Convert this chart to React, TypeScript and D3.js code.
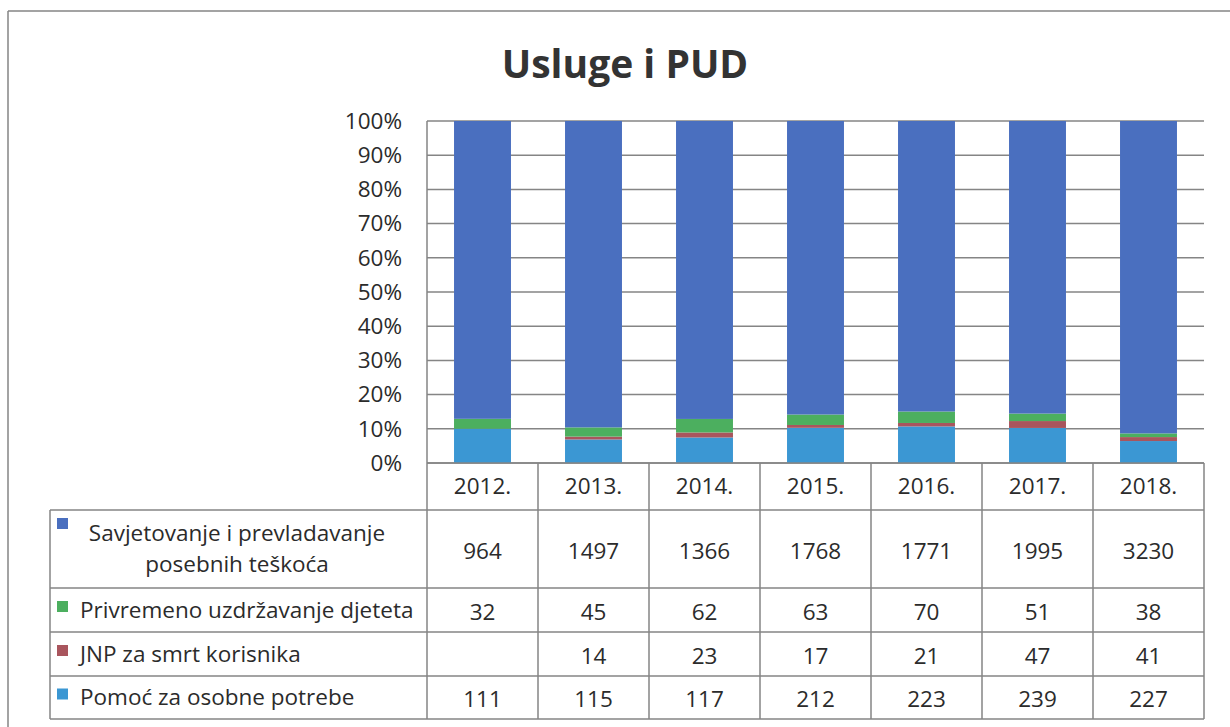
import * as d3 from 'd3';
import React from 'react';

const years = ['2012.', '2013.', '2014.', '2015.', '2016.', '2017.', '2018.'];
const savjetovanje = [964, 1497, 1366, 1768, 1771, 1995, 3230];
const privremeno = [32, 45, 62, 63, 70, 51, 38];
const jnp = [null, 14, 23, 17, 21, 47, 41];
const pomoc = [111, 115, 117, 212, 223, 239, 227];

// bottom to top in the stack
const seriesKeys = ['pomoc', 'jnp', 'privremeno', 'savjetovanje'];
const seriesColors: any = {
  savjetovanje: '#4a6fbf',
  privremeno: '#4caf5f',
  jnp: '#a9555d',
  pomoc: '#3b97d3',
};
// table order, top to bottom
const tableRows = [
  { key: 'savjetovanje', label: ['Savjetovanje i prevladavanje', 'posebnih teškoća'], values: savjetovanje },
  { key: 'privremeno', label: ['Privremeno uzdržavanje djeteta'], values: privremeno },
  { key: 'jnp', label: ['JNP za smrt korisnika'], values: jnp },
  { key: 'pomoc', label: ['Pomoć za osobne potrebe'], values: pomoc },
];

const W = 1230;
const H = 727;
const FONT = "'Open Sans', sans-serif";
const LINE = '#858585';
const TEXT = '#2b2b2b';
const FS = 22.5;

const plot = { left: 427, right: 1204, top: 121, bottom: 463 };
const rowEdges = [463, 510, 588, 632, 676, 719];
const tableLeft = 50;

export default function App() {
  const rows = years.map((y, i) => ({
    year: y,
    savjetovanje: savjetovanje[i],
    privremeno: privremeno[i],
    jnp: jnp[i] ?? 0,
    pomoc: pomoc[i],
  }));

  const stacked = d3.stack<any>().keys(seriesKeys).offset(d3.stackOffsetExpand)(rows);

  const cols = d3.scaleBand().domain(years).range([plot.left, plot.right]);
  const bars = d3
    .scaleBand()
    .domain(years)
    .range([plot.left, plot.right])
    .paddingInner(0.487)
    .paddingOuter(0.2435);
  const y = d3.scaleLinear().domain([0, 1]).range([plot.bottom, plot.top]);
  const ticks = y.ticks(10);
  const fmt = d3.format('.0%');

  return (
    <svg
      width={W}
      height={H}
      style={{ position: 'absolute', left: 0, top: 0, background: '#fff' }}
      fontFamily={FONT}
    >
      <rect x={0} y={0} width={W} height={H} fill="#fff" />
      {/* outer frame */}
      <line x1={8} y1={11} x2={W} y2={11} stroke={LINE} strokeWidth={1.5} />
      <line x1={8} y1={11} x2={8} y2={H} stroke={LINE} strokeWidth={1.5} />

      <text x={625} y={78} textAnchor="middle" fontSize={39} fontWeight="bold" fill="#333">
        Usluge i PUD
      </text>

      {/* gridlines */}
      {ticks.map((t) => (
        <line key={t} x1={plot.left} x2={plot.right} y1={y(t)} y2={y(t)} stroke={LINE} strokeWidth={1.5} />
      ))}
      <line x1={plot.left} x2={plot.left} y1={plot.top} y2={plot.bottom} stroke={LINE} strokeWidth={1.5} />

      {/* axis labels */}
      {ticks.map((t) => (
        <text
          key={'l' + t}
          x={402}
          y={y(t)}
          dy="0.35em"
          textAnchor="end"
          fontSize={FS}
          fill={TEXT}
        >
          {fmt(t)}
        </text>
      ))}

      {/* bars */}
      {stacked.map((s: any) => (
        <g key={s.key} fill={seriesColors[s.key]}>
          {s.map((d: any) => (
            <rect
              key={d.data.year}
              x={bars(d.data.year)}
              width={bars.bandwidth()}
              y={y(d[1])}
              height={Math.max(0, y(d[0]) - y(d[1]))}
            />
          ))}
        </g>
      ))}

      {/* data table */}
      <g stroke={LINE} strokeWidth={1.5} fill="none">
        <line x1={plot.left} x2={plot.right} y1={rowEdges[0]} y2={rowEdges[0]} />
        {rowEdges.slice(1).map((ry) => (
          <line key={ry} x1={tableLeft} x2={plot.right} y1={ry} y2={ry} />
        ))}
        <line x1={tableLeft} x2={tableLeft} y1={rowEdges[1]} y2={rowEdges[5]} />
        {years.map((yr) => (
          <line key={yr} x1={cols(yr)} x2={cols(yr)} y1={rowEdges[0]} y2={rowEdges[5]} />
        ))}
        <line x1={plot.right} x2={plot.right} y1={rowEdges[0]} y2={rowEdges[5]} />
      </g>

      {years.map((yr) => (
        <text
          key={'h' + yr}
          x={(cols(yr) as number) + cols.bandwidth() / 2}
          y={(rowEdges[0] + rowEdges[1]) / 2}
          dy="0.35em"
          textAnchor="middle"
          fontSize={FS}
          fill={TEXT}
        >
          {yr}
        </text>
      ))}

      {tableRows.map((r, i) => {
        const top = rowEdges[i + 1];
        const bottom = rowEdges[i + 2];
        const mid = (top + bottom) / 2;
        const twoLine = r.label.length > 1;
        return (
          <g key={r.key}>
            <rect
              x={57}
              y={twoLine ? top + 8 : mid - 9}
              width={11}
              height={11}
              fill={seriesColors[r.key]}
            />
            {twoLine ? (
              r.label.map((ln, j) => (
                <text
                  key={j}
                  x={237}
                  y={mid + (j - 0.5) * 31}
                  dy="0.35em"
                  textAnchor="middle"
                  fontSize={FS}
                  fill={TEXT}
                >
                  {ln}
                </text>
              ))
            ) : (
              <text x={80} y={mid} dy="0.35em" fontSize={FS} fill={TEXT}>
                {r.label[0]}
              </text>
            )}
            {r.values.map((v, j) => (
              <text
                key={j}
                x={(cols(years[j]) as number) + cols.bandwidth() / 2}
                y={mid + 2}
                dy="0.35em"
                textAnchor="middle"
                fontSize={FS}
                fill={TEXT}
              >
                {v == null ? '' : v}
              </text>
            ))}
          </g>
        );
      })}
    </svg>
  );
}
